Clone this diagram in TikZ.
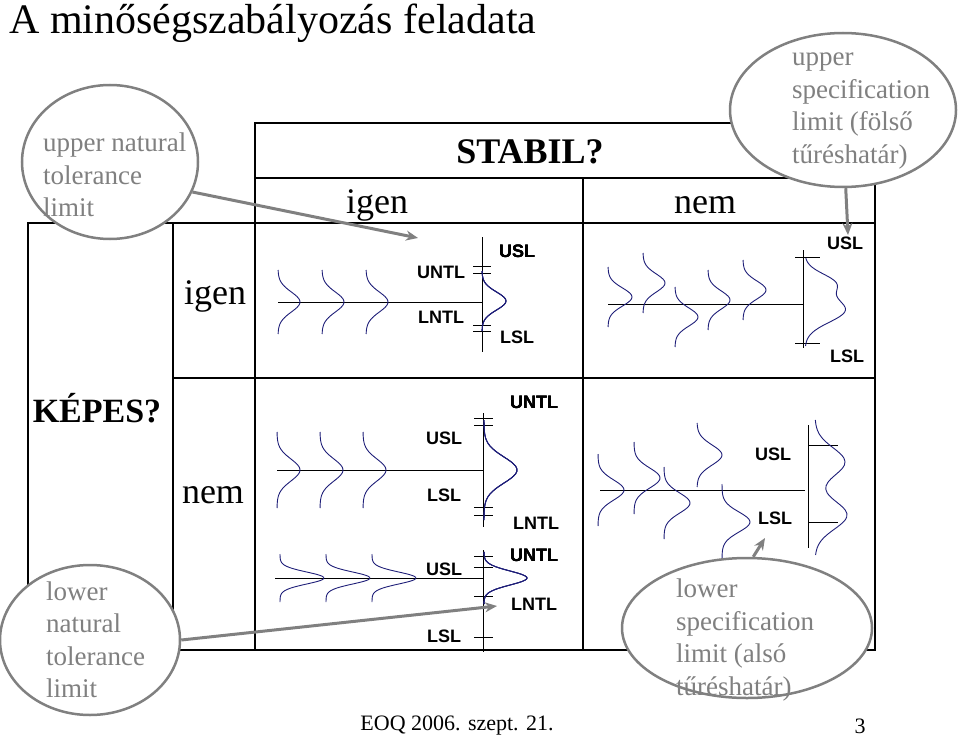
\documentclass[tikz,border=0pt]{standalone}
\usepackage{fontspec}
\setmainfont{Liberation Serif}
\setsansfont{Liberation Sans}
\usetikzlibrary{shapes.geometric,arrows.meta}
\definecolor{bellblue}{RGB}{30,30,120}
\tikzset{grid/.style={line width=1.3pt}}
\tikzset{bell/.style={bellblue,line width=0.9pt,smooth,samples=40}}
\tikzset{axisline/.style={line width=0.9pt}}
\tikzset{lim/.style={font=\sffamily\bfseries\fontsize{18}{18}\selectfont,inner sep=0pt}}
\tikzset{cell/.style={font=\fontsize{36}{36}\selectfont,inner sep=0pt}}
\tikzset{callout/.style={ellipse,draw=gray,line width=2.5pt,fill=white,inner sep=0pt}}
\tikzset{callouttext/.style={text=gray,align=left,inner sep=0pt,anchor=west,font=\fontsize{27}{32.5}\selectfont}}
\tikzset{pointer/.style={gray,line width=3pt,-{Stealth[length=12pt,width=10pt]}}}
\newcommand\bell[5]{\draw[bell] plot[domain=-#5:#5] ({#1+#3*exp(-(\x*\x)/(2*#4*#4))},{#2+\x});}

\begin{document}
\begin{tikzpicture}[x=1pt,y=-1pt]
  \useasboundingbox (0,0) rectangle (960,738);
  \node[anchor=west,font=\fontsize{42}{42}\selectfont,inner sep=0pt] (title) at (9,23) {A minőségszabályozás feladata};
  % table
  \draw[grid] (255,123) rectangle (875,223);
  \draw[grid] (255,178) -- (875,178);
  \draw[grid] (583,178) -- (583,650);
  \draw[grid] (28,223) rectangle (875,650);
  \draw[grid] (173,223) -- (173,650);
  \draw[grid] (255,223) -- (255,650);
  \draw[grid] (173,378) -- (875,378);
  \node[cell,font=\bfseries\fontsize{36}{36}\selectfont] (stabil) at (530,152) {STABIL?};
  \node[cell] (sigen) at (377,205) {igen};
  \node[cell] (snem) at (705,205) {nem};
  \node[cell,font=\bfseries\fontsize{34}{34}\selectfont] (kepes) at (97,408) {KÉPES?};
  \node[cell] (kigen) at (215,296) {igen};
  \node[cell] (knem) at (213,495) {nem};
  % igen / igen
  \draw[axisline] (278,302) -- (482,302);
  \draw[axisline] (482,237) -- (482,352);
  \foreach \y in {266,273,325,331}
    \draw[axisline] (473,\y) -- (491,\y);
  \foreach \b in {278,322,366}
    \bell{\b}{302}{22}{10}{32}
  \bell{482}{301}{24}{9}{30}
  \node[lim] (usl1) at (517,251) {USL};
  \node[lim] (untl1) at (441,272) {UNTL};
  \node[lim] (lntl1) at (441,317) {LNTL};
  \node[lim] (lsl1) at (517,337) {LSL};
  % nem / igen
  \draw[axisline] (608,304) -- (803,304);
  \draw[axisline] (803,250) -- (803,348);
  \foreach \y in {257,343}
    \draw[axisline] (795,\y) -- (820,\y);
  \bell{608}{297}{24}{9}{30}
  \bell{643}{283}{22}{9}{30}
  \bell{675}{317}{23}{9}{30}
  \bell{708}{300}{22}{9}{30}
  \bell{743}{290}{23}{9}{30}
  \draw[bell] plot[domain=258:346] ({805+28*exp(-((\x-283)*(\x-283))/(2*90))+40*exp(-((\x-310)*(\x-310))/(2*150))},{\x});
  \node[lim] (usl2) at (845,243) {USL};
  \node[lim] (lsl2) at (847,356) {LSL};
  % igen / nem, wide
  \draw[axisline] (277,470) -- (483,470);
  \draw[axisline] (483,413) -- (483,527);
  \foreach \y in {418,425,507,515}
    \draw[axisline] (474,\y) -- (493,\y);
  \foreach \b in {277,320,363}
    \bell{\b}{470}{23}{11}{38}
  \bell{484}{470}{33}{13}{50}
  \node[lim] (untl3) at (534,402) {UNTL};
  \node[lim] (usl3) at (444,438) {USL};
  \node[lim] (lsl3) at (444,495) {LSL};
  \node[lim] (lntl3) at (536,523) {LNTL};
  % igen / nem, narrow
  \draw[axisline] (275,578) -- (483,578);
  \draw[axisline] (483,550) -- (483,652);
  \foreach \y in {556,567,596,637}
    \draw[axisline] (474,\y) -- (493,\y);
  \foreach \b in {280,326,372}
    \bell{\b}{578}{44}{6}{24}
  \bell{484}{578}{43}{7}{26}
  \node[lim] (untl4) at (534,555) {UNTL};
  \node[lim] (usl4) at (444,569) {USL};
  \node[lim] (lntl4) at (534,604) {LNTL};
  \node[lim] (lsl4) at (444,636) {LSL};
  % nem / nem
  \draw[axisline] (600,490) -- (805,490);
  \draw[axisline] (808,425) -- (808,548);
  \foreach \y in {445,522}
    \draw[axisline] (808,\y) -- (838,\y);
  \bell{598}{490}{26}{10}{36}
  \bell{634}{478}{26}{10}{36}
  \bell{664}{503}{26}{10}{36}
  \bell{697}{455}{25}{10}{32}
  \bell{722}{522}{28}{10}{38}
  \draw[bell] plot[domain=420:555] ({815+30*exp(-((\x-462)*(\x-462))/(2*200))+32*exp(-((\x-515)*(\x-515))/(2*200))},{\x});
  \node[lim] (usl5) at (773,454) {USL};
  \node[lim] (lsl5) at (775,518) {LSL};
  % callouts
  \node[callout,minimum width=176pt,minimum height=154pt] (untl) at (110,162) {};
  \node[callouttext] (untltext) at (43,175) {upper natural\\tolerance\\limit};
  \node[callout,minimum width=226pt,minimum height=154pt] (usl) at (843,110) {};
  \node[callouttext] (usltext) at (792,111) {upper\\specification\\limit (fölső\\tűréshatár)};
  \node[callout,minimum width=180pt,minimum height=150pt] (lntl) at (90,640) {};
  \node[callouttext] (lntltext) at (46,640) {lower\\natural\\tolerance\\limit};
  \node[callout,minimum width=250pt,minimum height=140pt] (lsl) at (747,628) {};
  \node[callouttext] (lsltext) at (676,640) {lower\\specification\\limit (alsó\\tűréshatár)};
  \coordinate (untlend) at (418,238);
  \coordinate (uslend) at (848,235);
  \coordinate (lntlend) at (497,606);
  \coordinate (lslend) at (765,538);
  \draw[pointer] (untl.-20) -- (untlend);
  \draw[pointer] (usl.-88) -- (uslend);
  \draw[pointer] (lntl.0) -- (lntlend);
  \draw[pointer] (lsl.85) -- (lslend);
  % footer
  \node[font=\fontsize{22}{22}\selectfont,inner sep=0pt] (date) at (457,726) {EOQ 2006. szept. 21.};
  \node[font=\fontsize{22}{22}\selectfont,inner sep=0pt] (page) at (860,726) {3};
\end{tikzpicture}
\end{document}
